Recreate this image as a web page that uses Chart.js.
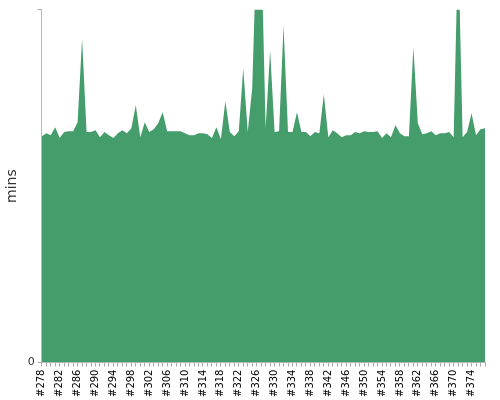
<!DOCTYPE html>
<html>
<head>
<script src="https://cdn.jsdelivr.net/npm/chart.js@4"></script>
<style>body{margin:0}#wrap{width:500px;height:400px}</style>
</head>
<body>
<div id="wrap"><canvas id="c"></canvas></div>
<script>
// build numbers #278..#377
var builds = [];
for (var n = 278; n <= 377; n++) builds.push('#' + n);

var mins = [
  64.1, 65.0, 64.4, 66.7, 63.6, 65.3, 65.5, 65.5, 68.1, 91.8,
  65.3, 65.3, 65.8, 63.8, 65.3, 64.4, 63.6, 65.0, 65.8, 65.0,
  66.4, 72.9, 63.8, 68.1, 65.3, 66.1, 67.8, 70.9, 65.5, 65.5,
  65.5, 65.5, 65.0, 64.4, 64.4, 65.0, 65.0, 64.7, 63.6, 66.7,
  63.3, 74.0, 65.3, 64.1, 65.5, 83.3, 65.3, 77.7, 120, 120,
  66.4, 88.4, 65.3, 65.5, 95.5, 65.3, 65.3, 70.9, 65.3, 65.3,
  64.1, 65.3, 65.0, 76.0, 63.8, 65.8, 65.0, 63.8, 64.4, 64.4,
  65.3, 65.0, 65.5, 65.3, 65.3, 65.5, 63.6, 65.0, 63.8, 67.2,
  65.0, 64.1, 64.1, 89.3, 67.8, 64.7, 65.0, 65.5, 64.4, 65.0,
  65.0, 65.3, 63.8, 120, 63.8, 65.3, 70.6, 64.4, 66.1, 66.4
];

new Chart(document.getElementById('c'), {
  type: 'line',
  data: {
    labels: builds,
    datasets: [{
      data: mins,
      fill: true,
      backgroundColor: '#459d6c',
      borderWidth: 0,
      pointRadius: 0,
      tension: 0
    }]
  },
  options: {
    responsive: true,
    maintainAspectRatio: false,
    animation: false,
    plugins: { legend: { display: false }, tooltip: { enabled: false } },
    layout: { padding: { top: 4, right: 9 } },
    scales: {
      x: {
        grid: { drawOnChartArea: false, color: '#aaa', tickLength: 4 },
        border: { color: '#bbb' },
        ticks: {
          autoSkip: false, maxRotation: 90, minRotation: 90,
          color: '#000', font: { family: 'DejaVu Sans', size: 10 },
          callback: function (v, i) { return i % 4 === 0 ? builds[i] : ''; }
        }
      },
      y: {
        min: 0, max: 100,
        grid: { drawOnChartArea: false, color: '#aaa', tickLength: 4 },
        border: { color: '#bbb' },
        title: { display: true, text: 'mins', color: '#333', font: { family: 'DejaVu Sans', size: 14 } },
        ticks: {
          stepSize: 100, color: '#333', font: { family: 'DejaVu Sans', size: 11 },
          callback: function (v) { return v === 0 ? '0' : ''; }
        }
      }
    }
  }
});
</script>
</body>
</html>
